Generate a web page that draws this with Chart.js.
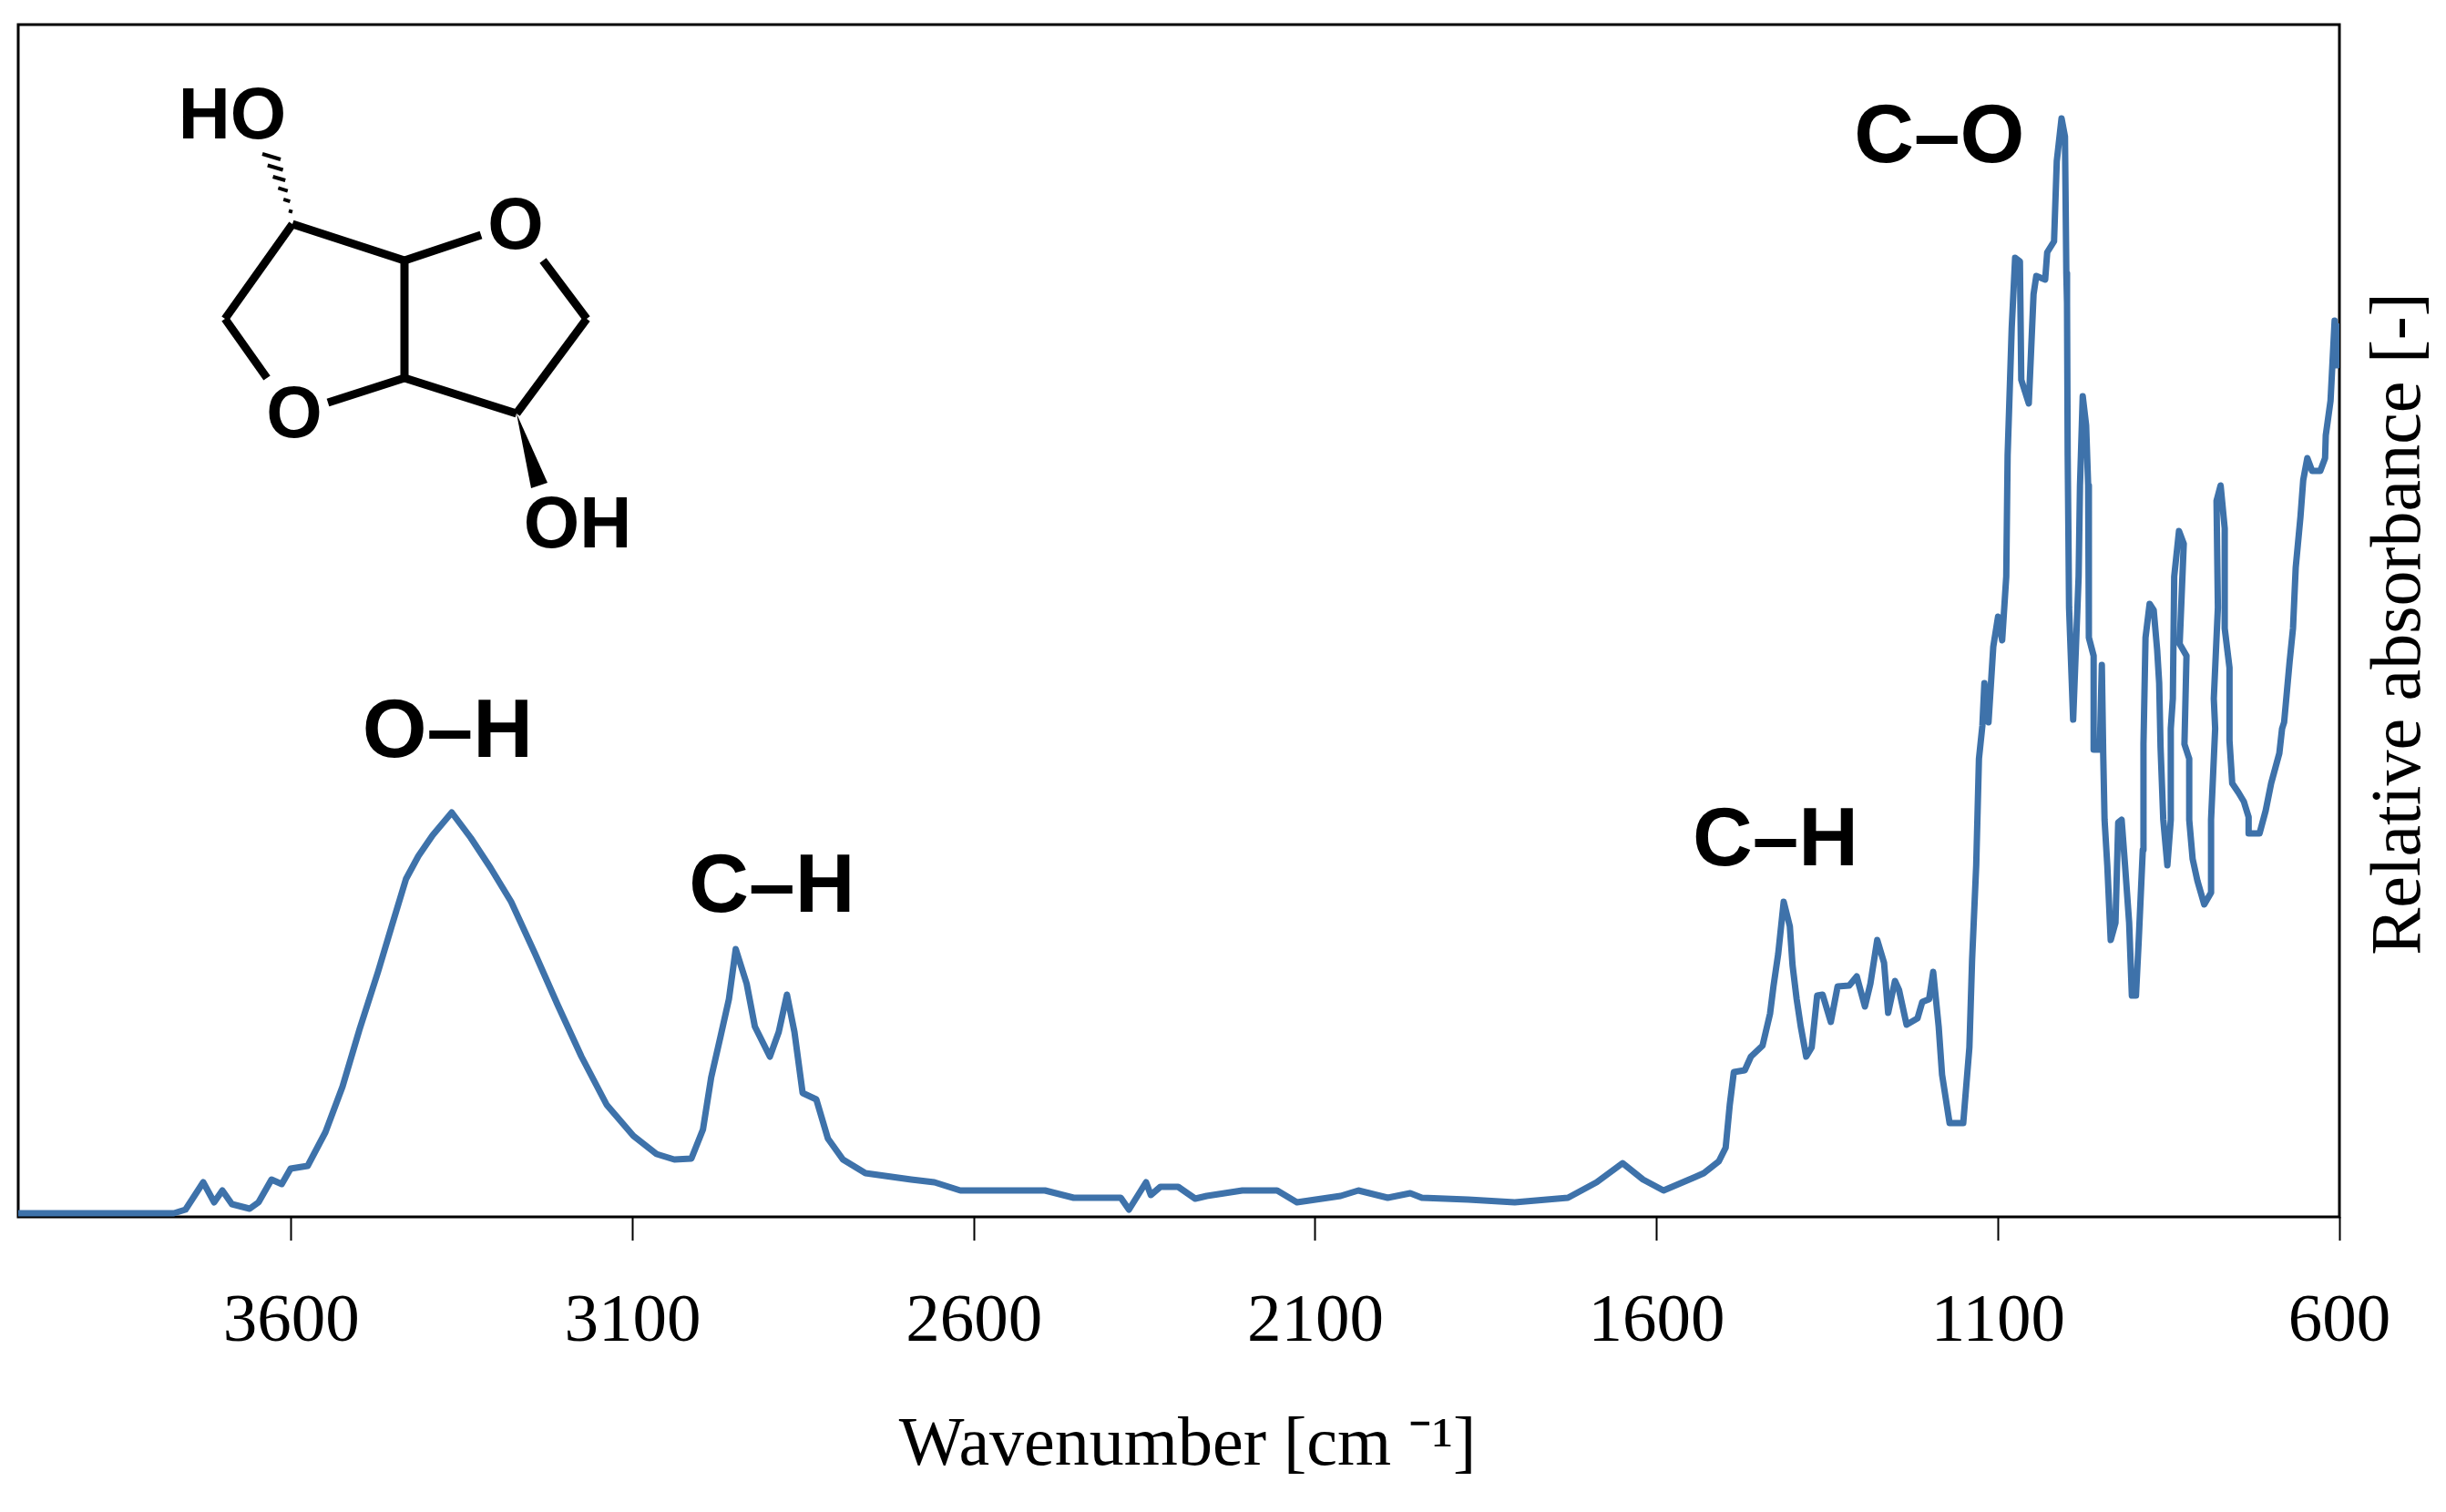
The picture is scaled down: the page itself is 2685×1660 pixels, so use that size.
<!DOCTYPE html>
<html>
<head>
<meta charset="utf-8">
<title>IR spectrum</title>
<script src="https://cdn.jsdelivr.net/npm/chart.js@4/dist/chart.umd.min.js"></script>
<style>
  html, body { margin: 0; padding: 0; background: #fff; }
  canvas { display: block; }
</style>
</head>
<body>
<canvas id="spectrum" width="2685" height="1660"></canvas>
<script>
const wavenumbers = [
  4000, 3772, 3755, 3729, 3713, 3701, 3687, 3661, 3648, 3629, 3614, 3601, 3576, 3550, 3525, 3500, 3473, 3453, 3432, 3414,
  3393, 3365, 3337, 3308, 3278, 3243, 3210, 3175, 3138, 3099, 3065, 3039, 3014, 2997, 2985, 2971, 2959, 2949, 2933, 2921,
  2899, 2886, 2874, 2863, 2851, 2831, 2814, 2792, 2759, 2692, 2658, 2620, 2496, 2454, 2385, 2373, 2348, 2341, 2327, 2301,
  2276, 2259, 2207, 2156, 2127, 2063, 2037, 1994, 1961, 1944, 1876, 1808, 1730, 1688, 1650, 1620, 1590, 1543, 1531, 1509,
  1499, 1493, 1487, 1471, 1462, 1445, 1434, 1429, 1422, 1414, 1405, 1401, 1395, 1389, 1381, 1373, 1365, 1357, 1345, 1335,
  1318, 1307, 1295, 1287, 1277, 1267, 1261, 1251, 1245, 1234, 1218, 1211, 1201, 1195, 1187, 1182, 1171, 1151, 1142, 1138,
  1132, 1128, 1123, 1120, 1114, 1107, 1100, 1094, 1088, 1086, 1080, 1075, 1068, 1066, 1055, 1048, 1044, 1031, 1028, 1018,
  1014, 1007, 1002, 1000, 999, 998, 996, 990, 982, 980, 976, 971, 968, 967, 967, 960, 960, 951, 948, 946,
  944, 940, 935, 928, 924, 919, 914, 908, 904, 898, 894, 888, 887, 884, 878, 872, 867, 864, 862, 858,
  852, 847, 847, 844, 842, 835, 828, 834, 824, 827, 820, 820, 815, 808, 798, 788, 788, 782, 784, 778,
  780, 774, 768, 768, 761, 761, 757, 748, 740, 733, 733, 717, 708, 700, 688, 684, 681, 677, 673, 668,
  664, 657, 653, 647, 640, 628, 621, 620, 613, 607, 604, 603
];
const absorbance = [
  0.4, 0.4, 0.8, 3.8, 1.6, 2.9, 1.4, 0.9, 1.6, 4.1, 3.6, 5.3, 5.6, 9.3, 14.3, 20.6, 26.9, 31.9, 37.1, 39.6,
  41.9, 44.4, 41.6, 38.3, 34.6, 28.9, 23.3, 17.6, 12.3, 8.9, 6.9, 6.3, 6.4, 9.6, 15.3, 19.9, 23.9, 29.4, 25.6, 20.9,
  17.6, 20.3, 24.4, 20.3, 13.6, 12.9, 8.6, 6.3, 4.8, 4.1, 3.8, 2.9, 2.9, 2.1, 2.1, 0.8, 3.8, 2.4, 3.3, 3.3,
  2.0, 2.3, 2.9, 2.9, 1.6, 2.3, 2.9, 2.1, 2.6, 2.1, 1.9, 1.6, 2.1, 3.8, 5.9, 4.1, 2.9, 4.4, 4.8, 6.1,
  7.6, 12.3, 15.9, 16.1, 17.6, 18.8, 22.3, 25.3, 28.9, 34.6, 31.9, 27.6, 23.9, 20.9, 17.6, 18.6, 24.3, 24.4, 21.4, 25.3,
  25.4, 26.4, 23.1, 25.6, 30.4, 27.9, 22.4, 25.9, 24.9, 21.1, 21.8, 23.6, 23.9, 26.9, 20.9, 15.6, 10.3, 10.3, 18.6, 28.3,
  38.6, 50.3, 53.9, 58.6, 54.3, 62.6, 65.9, 63.3, 70.3, 83.6, 97.6, 105.3, 104.9, 91.9, 89.3, 101.3, 103.3, 102.9, 105.9, 107.1,
  115.9, 120.6, 118.6, 103.6, 100.3, 83.6, 66.9, 54.6, 70.3, 80.3, 90.1, 86.9, 80.3, 73.6, 63.6, 61.6, 51.3, 51.3, 60.6, 50.9,
  43.6, 38.6, 30.4, 32.3, 43.3, 43.6, 38.6, 32.3, 24.3, 24.3, 30.3, 40.3, 51.9, 63.6, 67.3, 66.6, 62.3, 58.6, 51.6, 43.6,
  38.6, 43.6, 53.6, 56.9, 70.3, 75.3, 73.9, 62.9, 61.6, 51.9, 50.3, 43.6, 39.3, 36.9, 34.3, 35.6, 43.6, 53.6, 56.9, 66.9,
  78.6, 80.3, 75.6, 64.6, 60.3, 52.3, 47.6, 46.6, 45.6, 43.9, 42.1, 42.1, 44.6, 47.6, 50.9, 53.6, 54.3, 57.6, 60.9, 64.6,
  71.3, 76.9, 80.9, 83.3, 81.9, 81.9, 83.3, 85.8, 89.6, 98.4, 93.5, 98.1
];
const xTickValues = [3600, 3100, 2600, 2100, 1600, 1100, 600];

// band assignments, placed at (wavenumber, absorbance)
const bandLabels = ["O–H", "C–H", "C–H", "C–O"];
const bandWavenumbers = [3371, 2896, 1426, 1186];
const bandHeights = [53.6, 36.6, 41.7, 118.9];

const serif = '"Liberation Serif", "Times New Roman", serif';
const sans = '"Liberation Sans", Arial, sans-serif';
const lineColor = '#3e72aa';

// isosorbide structure, canvas pixels
const bonds = [
  [[321, 246], [444, 286]], [[444, 286], [528, 258]], [[444, 286], [444, 415]],
  [[444, 415], [360, 442]], [[444, 415], [567, 454]], [[567, 454], [644, 350]],
  [[644, 350], [596, 286]], [[321, 246], [247, 350]], [[247, 350], [293, 415]]
];
const atoms = [["HO", 255, 125], ["O", 566, 246], ["O", 323, 453], ["OH", 634, 574]];

function drawMolecule(ctx) {
  ctx.save();
  ctx.strokeStyle = '#000';
  ctx.fillStyle = '#000';
  ctx.lineWidth = 9;
  ctx.lineCap = 'butt';
  ctx.lineJoin = 'miter';
  bonds.forEach(b => {
    ctx.beginPath();
    ctx.moveTo(b[0][0], b[0][1]);
    ctx.lineTo(b[1][0], b[1][1]);
    ctx.stroke();
  });

  // wedge bond to lower OH
  ctx.beginPath();
  ctx.moveTo(567, 454);
  ctx.lineTo(601, 530);
  ctx.lineTo(583, 536);
  ctx.closePath();
  ctx.fill();

  // hashed bond to upper HO
  ctx.lineWidth = 4;
  for (let i = 0; i < 6; i++) {
    const t = i / 5;
    const cx = 319 - 21 * t;
    const cy = 232 - 60 * t;
    const half = 2 + 8 * t;
    ctx.beginPath();
    ctx.moveTo(cx - half, cy - half * 0.3);
    ctx.lineTo(cx + half, cy + half * 0.3);
    ctx.stroke();
  }

  ctx.font = 'bold 79px ' + sans;
  ctx.textAlign = 'center';
  ctx.textBaseline = 'middle';
  atoms.forEach(a => ctx.fillText(a[0], a[1], a[2] + 5));
  ctx.restore();
}

const spectrumDecor = {
  id: 'spectrumDecor',
  beforeDatasetsDraw(chart) {
    const { ctx, chartArea: a } = chart;
    ctx.save();
    ctx.strokeStyle = '#000';
    ctx.lineWidth = 3;
    ctx.strokeRect(a.left, a.top, a.right - a.left, a.bottom - a.top);
    ctx.restore();
  },
  afterDraw(chart) {
    const { ctx, scales } = chart;
    ctx.save();
    ctx.fillStyle = '#000';
    ctx.textAlign = 'center';
    ctx.textBaseline = 'middle';
    ctx.font = 'bold 91px ' + sans;
    bandLabels.forEach((label, i) => {
      ctx.fillText(label, scales.x.getPixelForValue(bandWavenumbers[i]), scales.y.getPixelForValue(bandHeights[i]) + 6);
    });

    // right-hand axis title reads bottom to top
    ctx.translate(2636, 685);
    ctx.rotate(-Math.PI / 2);
    ctx.font = '78px ' + serif;
    ctx.fillText('Relative absorbance [-]', 0, 0);
    ctx.restore();

    drawMolecule(ctx);
  }
};

new Chart(document.getElementById('spectrum').getContext('2d'), {
  type: 'scatter',
  data: {
    datasets: [{
      label: 'Relative absorbance',
      data: wavenumbers.map((w, i) => ({ x: w, y: absorbance[i] })),
      showLine: true,
      borderColor: lineColor,
      borderWidth: 7,
      borderJoinStyle: 'round',
      tension: 0,
      pointRadius: 0
    }]
  },
  options: {
    responsive: false,
    animation: false,
    layout: { padding: { left: 20, top: 27, right: 117, bottom: 0 } },
    plugins: { legend: { display: false }, tooltip: { enabled: false } },
    scales: {
      x: {
        type: 'linear',
        reverse: true,
        min: 600,
        max: 4000,
        afterBuildTicks: axis => { axis.ticks = xTickValues.map(v => ({ value: v })); },
        afterFit: axis => { axis.height = 324; },
        border: { display: false },
        grid: { drawOnChartArea: false, drawTicks: true, tickLength: 26, tickColor: '#000', tickWidth: 2 },
        ticks: {
          autoSkip: false,
          maxRotation: 0,
          color: '#000',
          padding: 45,
          callback: value => String(value),
          font: { family: serif, size: 75 }
        },
        title: {
          display: true,
          // leading space nudges the centred title right, as in the original
          text: ' Wavenumber [cm ⁻¹]',
          color: '#000',
          font: { family: serif, size: 76 },
          padding: { top: 0, bottom: 26 }
        }
      },
      y: {
        display: false,
        min: 0,
        max: 130.9
      }
    }
  },
  plugins: [spectrumDecor]
});
</script>
</body>
</html>
